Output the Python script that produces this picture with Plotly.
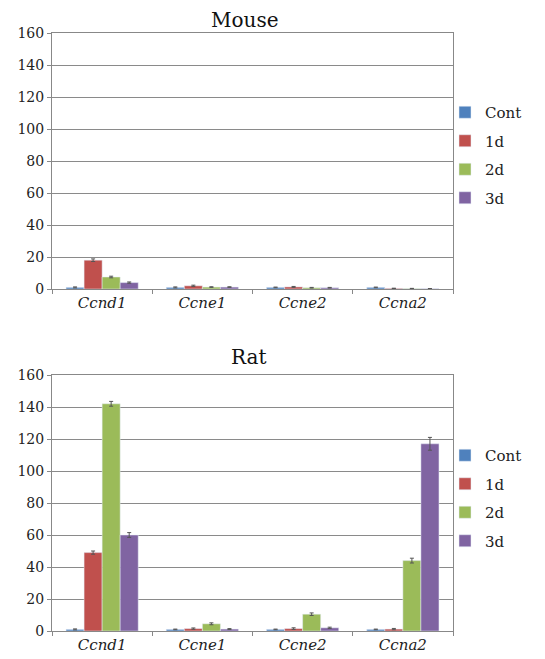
import plotly.graph_objects as go

genes = ["Ccnd1", "Ccne1", "Ccne2", "Ccna2"]
gene_labels = ["<i>Ccnd1</i>", "<i>Ccne1</i>", "<i>Ccne2</i>", "<i>Ccna2</i>"]
series = ["Cont", "1d", "2d", "3d"]
colors = ["#4F81BD", "#C0504D", "#9BBB59", "#8064A2"]

mouse_cont = [1.0, 1.0, 1.0, 1.0]
mouse_1d = [18.0, 2.0, 1.3, 0.4]
mouse_2d = [7.5, 1.2, 0.8, 0.3]
mouse_3d = [4.0, 1.2, 0.8, 0.2]
mouse_err_cont = [0.3, 0.3, 0.2, 0.2]
mouse_err_1d = [0.8, 0.4, 0.3, 0.1]
mouse_err_2d = [0.5, 0.2, 0.2, 0.1]
mouse_err_3d = [0.4, 0.2, 0.2, 0.1]

rat_cont = [1.0, 1.0, 1.0, 1.0]
rat_1d = [49.0, 1.5, 1.5, 1.2]
rat_2d = [142.0, 4.5, 10.5, 44.0]
rat_3d = [60.0, 1.2, 2.0, 117.0]
rat_err_cont = [0.3, 0.2, 0.2, 0.2]
rat_err_1d = [1.0, 0.4, 0.5, 0.4]
rat_err_2d = [1.5, 0.6, 0.8, 1.5]
rat_err_3d = [1.5, 0.3, 0.4, 4.0]

yticks = [0, 20, 40, 60, 80, 100, 120, 140, 160]

OFF = 8  # page body margin
W, H = 545 - OFF, 659 - OFF
PL, PR, PT, PB = 52, 453, 33, 631
ML, MR, MT, MB = PL - OFF, W - (PR - OFF), PT - OFF, H - (PB - OFF)
PW, PH = W - ML - MR, H - MT - MB
FONT = "DejaVu Serif"

fig = go.Figure()

mouse_vals = [mouse_cont, mouse_1d, mouse_2d, mouse_3d]
mouse_errs = [mouse_err_cont, mouse_err_1d, mouse_err_2d, mouse_err_3d]
rat_vals = [rat_cont, rat_1d, rat_2d, rat_3d]
rat_errs = [rat_err_cont, rat_err_1d, rat_err_2d, rat_err_3d]

for i, s in enumerate(series):
    fig.add_trace(go.Bar(
        x=genes, y=mouse_vals[i], name=s, marker_color=colors[i],
        error_y=dict(type="data", array=mouse_errs[i], color="#555555", thickness=1, width=2),
        xaxis="x", yaxis="y", legend="legend", legendgroup="m" + s,
    ))
for i, s in enumerate(series):
    fig.add_trace(go.Bar(
        x=genes, y=rat_vals[i], name=s, marker_color=colors[i],
        error_y=dict(type="data", array=rat_errs[i], color="#555555", thickness=1, width=2),
        xaxis="x2", yaxis="y2", legend="legend2", legendgroup="r" + s,
    ))

def fy(p):
    return (PB - p) / PH

def fx(p):
    return (p - PL) / PW

axis_common = dict(
    showline=True, linecolor="#888888", linewidth=1, mirror=True,
    tickfont=dict(family=FONT, size=14, color="#222222"),
)
xcommon = dict(axis_common, ticks="outside", ticklen=4, tickcolor="#888888",
               tickson="boundaries", tickvals=genes, ticktext=gene_labels,
               domain=[0, 1], showgrid=False,
               tickfont=dict(family=FONT, size=15, color="#222222"))
ycommon = dict(axis_common, range=[0, 160], tickvals=yticks, showgrid=True,
               gridcolor="#8a8a8a", gridwidth=1, ticks="outside", ticklen=4,
               tickcolor="#888888", zeroline=False)

legend_common = dict(xanchor="left", yanchor="top",
                     font=dict(family=FONT, size=15, color="#222222"),
                     tracegroupgap=6, itemwidth=30, bgcolor="rgba(0,0,0,0)")

fig.update_layout(
    width=W, height=H,
    margin=dict(l=ML, r=MR, t=MT, b=MB, autoexpand=False),
    paper_bgcolor="white", plot_bgcolor="white",
    barmode="group", bargap=0.28, bargroupgap=0.0,
    font=dict(family=FONT, size=15, color="#222222"),
    xaxis=dict(xcommon, anchor="y"),
    yaxis=dict(ycommon, domain=[fy(289), fy(33)], anchor="x"),
    xaxis2=dict(xcommon, anchor="y2"),
    yaxis2=dict(ycommon, domain=[fy(631), fy(375)], anchor="x2"),
    legend=dict(legend_common, x=fx(445), y=fy(96)),
    legend2=dict(legend_common, x=fx(445), y=fy(439)),
    annotations=[
        dict(text="Mouse", x=fx(245), y=fy(20), xref="paper", yref="paper",
             xanchor="center", yanchor="middle",
             showarrow=False, font=dict(family=FONT, size=20, color="#111111")),
        dict(text="Rat", x=fx(248), y=fy(357), xref="paper", yref="paper",
             xanchor="center", yanchor="middle",
             showarrow=False, font=dict(family=FONT, size=20, color="#111111")),
    ],
)

fig.write_html("out.html")
